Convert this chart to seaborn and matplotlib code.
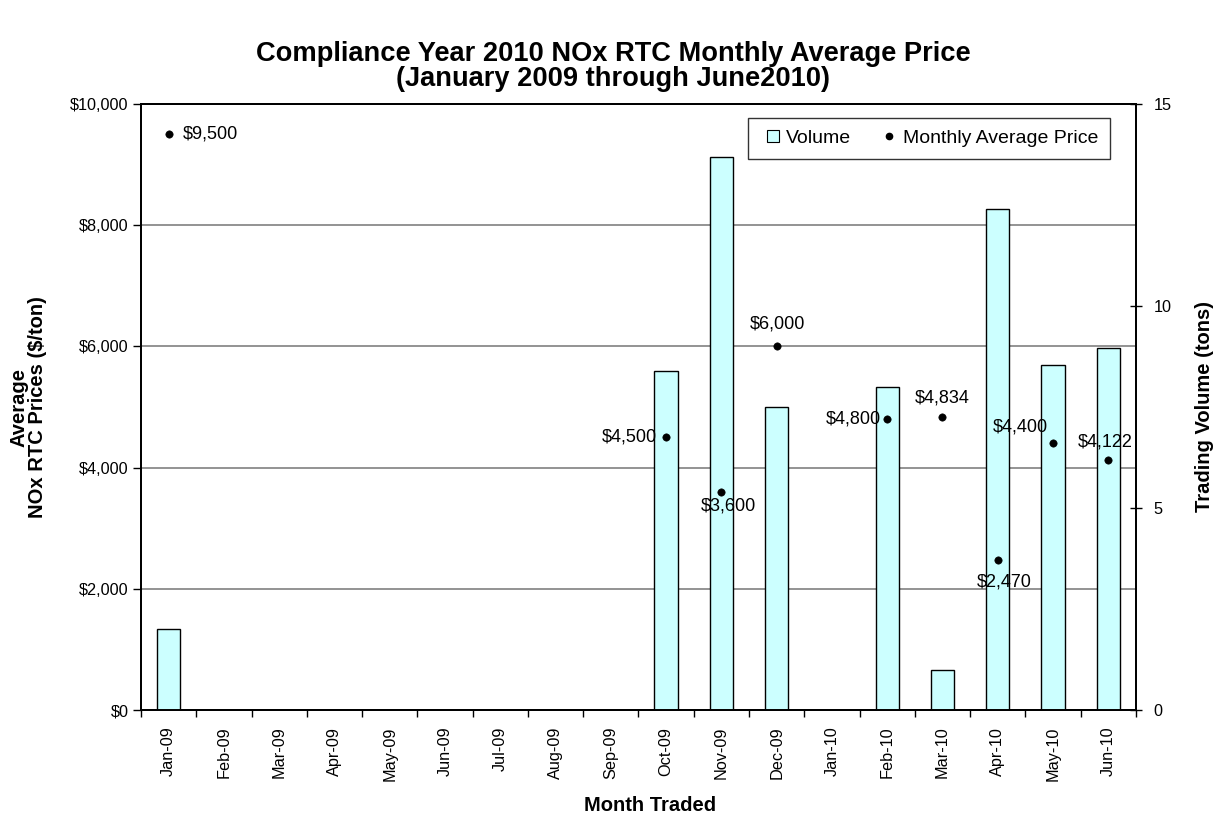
import numpy as np
import pandas as pd
import matplotlib
matplotlib.use('Agg')
import matplotlib.pyplot as plt
import seaborn as sns
from matplotlib.ticker import FixedLocator, FuncFormatter
from matplotlib.lines import Line2D

months = ['Jan-09', 'Feb-09', 'Mar-09', 'Apr-09', 'May-09', 'Jun-09', 'Jul-09', 'Aug-09', 'Sep-09',
          'Oct-09', 'Nov-09', 'Dec-09', 'Jan-10', 'Feb-10', 'Mar-10', 'Apr-10', 'May-10', 'Jun-10']
volume = [2, 0, 0, 0, 0, 0, 0, 0, 0, 8.4, 13.7, 7.5, 0, 8, 1, 12.4, 8.55, 8.95]
price = [9500, np.nan, np.nan, np.nan, np.nan, np.nan, np.nan, np.nan, np.nan,
         4500, 3600, 6000, np.nan, 4800, 4834, 2470, 4400, 4122]

# where each price label sits relative to its dot (pixels, ha, va)
label_pos = {
    'Jan-09': (14, 0, 'left', 'center'),
    'Oct-09': (-9, 0, 'right', 'center'),
    'Nov-09': (7, -14, 'center', 'center'),
    'Dec-09': (1, 22, 'center', 'center'),
    'Feb-10': (-6, 0, 'right', 'center'),
    'Mar-10': (0, 19, 'center', 'center'),
    'Apr-10': (6, -22, 'center', 'center'),
    'May-10': (-33, 16, 'center', 'center'),
    'Jun-10': (-3, 18, 'center', 'center'),
}

df = pd.DataFrame({'Month': months, 'Volume': volume, 'Price': price})
df['pos'] = np.arange(len(df))

sns.set_style('white')
plt.rcParams['font.family'] = ['Liberation Sans', 'DejaVu Sans']
plt.rcParams['text.color'] = 'black'
plt.rcParams['xtick.color'] = 'black'
plt.rcParams['ytick.color'] = 'black'

fig = plt.figure(figsize=(12.27, 8.21), dpi=100)
ax = fig.add_axes([0.1149, 0.1352, 0.8109, 0.7381])

# price axis (left) with gridlines, at the back
ax.set_ylim(0, 10000)
ax.yaxis.set_major_locator(FixedLocator(np.arange(0, 10001, 2000)))
ax.yaxis.set_major_formatter(FuncFormatter(lambda v, p: f'${v:,.0f}'))
ax.grid(axis='y', color='#808080', linewidth=1.2)
ax.set_axisbelow(True)

# volume bars (right axis)
axv = ax.twinx()
sns.barplot(data=df, x='pos', y='Volume', ax=axv, native_scale=True, width=0.42,
            color='#CCFFFF', saturation=1, edgecolor='black', linewidth=1.0, errorbar=None)
axv.set_ylim(0, 15)
axv.yaxis.set_major_locator(FixedLocator([0, 5, 10, 15]))
axv.set_ylabel('')
axv.set_xlabel('')

# price dots on top
axp = ax.twinx()
sns.scatterplot(data=df, x='pos', y='Price', ax=axp, color='black', s=28, edgecolor='black', zorder=5)
axp.set_ylim(0, 10000)
axp.set_yticks([])
axp.set_ylabel('')
axp.set_xlabel('')
for _, r in df.dropna(subset=['Price']).iterrows():
    dx, dy, ha, va = label_pos[r['Month']]
    axp.annotate(f"${r['Price']:,.0f}", (r['pos'], r['Price']), xytext=(dx, dy),
                 textcoords='offset pixels', ha=ha, va=va, fontsize=13)

for a in (ax, axv, axp):
    a.set_xlim(-0.5, len(months) - 0.5)
    for s in a.spines.values():
        s.set_color('black')
        s.set_linewidth(1.2)

ax.set_xticks(df['pos'])
ax.set_xticklabels(months, rotation=90, fontsize=11.7)
ax.xaxis.set_minor_locator(FixedLocator(np.arange(-0.5, len(months), 1)))
ax.tick_params(axis='x', which='major', length=0, pad=12)
ax.tick_params(axis='x', which='minor', bottom=True, length=5, width=1, color='black', direction='out')
ax.tick_params(axis='y', left=True, length=6, width=1, color='black', direction='out', labelsize=11.7, pad=3)
axv.tick_params(axis='y', right=True, length=9, width=1, color='black', direction='inout', labelsize=11.7, pad=8)
ax.set_xlabel('')
ax.set_ylabel('')

handles = [Line2D([], [], marker='s', linestyle='none', markerfacecolor='#CCFFFF',
                  markeredgecolor='black', markersize=9, markeredgewidth=0.8),
           Line2D([], [], marker='o', linestyle='none', color='black', markersize=4.5)]
leg = axp.legend(handles, ['Volume', 'Monthly Average Price'], loc='upper right',
                 bbox_to_anchor=(0.974, 0.977), ncol=2, fontsize=14, frameon=True, fancybox=False,
                 borderaxespad=0, handletextpad=0.05, columnspacing=1.3, borderpad=0.6, handlelength=1.3)
leg.get_frame().set_edgecolor('black')
leg.get_frame().set_linewidth(1.0)

fig.suptitle('Compliance Year 2010 NOx RTC Monthly Average Price\n(January 2009 through June2010)',
             x=0.5, y=1 - 41 / 821, va='top', fontsize=19.6, fontweight='bold', linespacing=0.97)
fig.text(28 / 1227, 1 - 407 / 821, 'Average\nNOx RTC Prices ($/ton)', rotation=90, ha='center',
         va='center', fontsize=14.5, fontweight='bold', multialignment='center', linespacing=0.95)
fig.text(1205 / 1227, 1 - 407 / 821, 'Trading Volume (tons)', rotation=90, ha='center',
         va='center', fontsize=14.5, fontweight='bold')
fig.text(650 / 1227, 1 - 805 / 821, 'Month Traded', ha='center', va='center',
         fontsize=14.5, fontweight='bold')

fig.savefig('out.png', dpi=100)
